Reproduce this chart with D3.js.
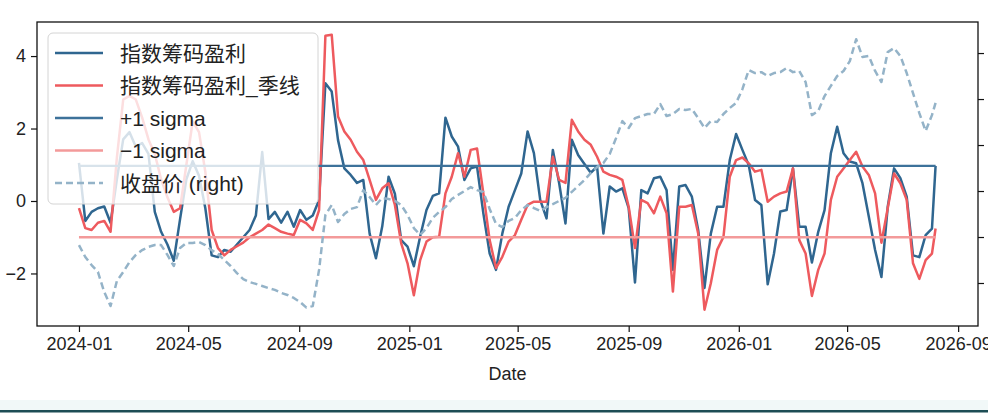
<!DOCTYPE html>
<html><head><meta charset="utf-8">
<script src="https://cdn.jsdelivr.net/npm/d3@7"></script>
<style>
body{margin:0;background:#fff;}
svg{display:block;}
text{font-family:"Liberation Sans",Arial,"Noto Sans CJK SC",sans-serif;fill:#222;}
</style>
</head><body>
<svg id="chart" width="988" height="420"></svg>
<script>
// ---------------- data ----------------
const dates = [
"2024-01-01","2024-01-08","2024-01-15","2024-01-22","2024-01-29","2024-02-05","2024-02-12","2024-02-19","2024-02-26",
"2024-03-04","2024-03-11","2024-03-18","2024-03-25","2024-04-01","2024-04-08","2024-04-15","2024-04-22","2024-04-29",
"2024-05-06","2024-05-13","2024-05-20","2024-05-27","2024-06-03","2024-06-10","2024-06-17","2024-06-24",
"2024-07-01","2024-07-08","2024-07-15","2024-07-22","2024-07-29","2024-08-05","2024-08-12","2024-08-19","2024-08-26",
"2024-09-02","2024-09-09","2024-09-16","2024-09-23","2024-09-30","2024-10-07","2024-10-14","2024-10-21","2024-10-28",
"2024-11-04","2024-11-11","2024-11-18","2024-11-25","2024-12-02","2024-12-09","2024-12-16","2024-12-23","2024-12-30",
"2025-01-06","2025-01-13","2025-01-20","2025-01-27","2025-02-03","2025-02-10","2025-02-17","2025-02-24",
"2025-03-03","2025-03-10","2025-03-17","2025-03-24","2025-03-31","2025-04-07","2025-04-14","2025-04-21","2025-04-28",
"2025-05-05","2025-05-12","2025-05-19","2025-05-26","2025-06-02","2025-06-09","2025-06-16","2025-06-23","2025-06-30",
"2025-07-07","2025-07-14","2025-07-21","2025-07-28","2025-08-04","2025-08-11","2025-08-18","2025-08-25",
"2025-09-01","2025-09-08","2025-09-15","2025-09-22","2025-09-29","2025-10-06","2025-10-13","2025-10-20","2025-10-27",
"2025-11-03","2025-11-10","2025-11-17","2025-11-24","2025-12-01","2025-12-08","2025-12-15","2025-12-22","2025-12-29",
"2026-01-05","2026-01-12","2026-01-19","2026-01-26","2026-02-02","2026-02-09","2026-02-16","2026-02-23",
"2026-03-02","2026-03-09","2026-03-16","2026-03-23","2026-03-30","2026-04-06","2026-04-13","2026-04-20","2026-04-27",
"2026-05-04","2026-05-11","2026-05-18","2026-05-25","2026-06-01","2026-06-08","2026-06-15","2026-06-22","2026-06-29",
"2026-07-06","2026-07-13","2026-07-20","2026-07-27","2026-08-03","2026-08-07"
];

// 指数筹码盈利
const chipProfit = [
1.05,-0.55,-0.3,-0.2,-0.15,-0.6,0.6,1.7,1.9,1.5,1.6,1.3,-0.3,-0.85,-1.2,-1.65,-0.5,0.6,1.1,0.7,
-0.2,-1.5,-1.55,-1.35,-1.4,-1.2,-1.0,-0.8,-0.4,1.35,-0.5,-0.3,-0.6,-0.3,-0.71,-0.25,-0.52,-0.4,0.03,3.25,
3.02,1.68,0.9,0.72,0.5,0.58,-0.9,-1.58,-0.7,0.67,0.2,-1.08,-1.26,-1.8,-0.98,-0.25,0.14,0.21,2.3,1.78,
1.5,0.58,0.9,0.95,-0.34,-1.45,-1.9,-0.9,-0.16,0.3,0.76,1.92,1.32,0.03,-0.48,1.41,0.49,-0.62,1.69,1.27,
1.02,0.78,0.95,-0.9,0.4,0.26,0.35,-0.2,-2.25,0.3,0.21,0.63,0.67,0.3,-1.9,0.4,0.44,0.12,-0.8,-2.4,
-0.9,-0.16,-0.16,1.13,1.85,1.41,0.99,0.03,-0.11,-2.3,-1.45,-0.29,-0.25,0.9,-0.71,-0.71,-1.7,-0.85,-0.25,1.32,
2.05,1.32,1.09,1.04,0.49,-0.43,-1.35,-2.1,-0.16,0.9,0.63,0.12,-1.5,-1.55,-0.94,-0.76,0.97
];

// 指数筹码盈利_季线
const chipProfitQ = [
-0.2,-0.75,-0.8,-0.6,-0.55,-0.85,1.2,2.8,2.9,2.8,2.3,1.7,1.3,0.6,0.1,-0.3,-0.2,1.0,2.2,1.9,
0.8,-0.8,-1.3,-1.5,-1.35,-1.25,-1.15,-1.0,-0.9,-0.8,-0.65,-0.75,-0.85,-0.9,-0.94,-0.52,-0.62,-0.8,-0.25,4.56,
4.59,2.33,1.92,1.69,1.36,1.13,0.58,0.03,0.35,0.49,-0.11,-1.17,-1.72,-2.6,-1.63,-1.12,-1.0,-0.99,0.21,0.67,
1.32,0.67,1.41,1.45,0.21,-1.08,-1.85,-1.54,-1.12,-0.94,-0.52,-0.11,-0.02,-0.02,-0.02,1.22,0.58,0.5,2.24,1.92,
1.69,1.55,1.22,0.81,0.72,0.67,0.58,-0.16,-1.3,0.03,-0.06,-0.34,0.12,-0.34,-2.5,-0.16,-0.16,-0.11,-0.9,-3.0,
-2.27,-1.35,-0.99,0.67,1.13,1.2,1.04,0.81,0.86,-0.02,0.12,0.21,0.26,0.9,-1.08,-1.45,-2.62,-1.9,-1.45,0.03,
0.67,0.9,1.13,1.36,0.95,0.72,0.21,-1.15,-0.2,0.76,0.49,0.03,-1.72,-2.15,-1.63,-1.45,-0.76
];

// 收盘价 (right axis)
const closePrice = [
3165,3113,3078,3048,2961,2900,3009,3048,3091,3122,3143,3157,3165,3165,3122,3074,3152,3174,3174,3178,
3165,3143,3126,3100,3074,3043,3017,3004,2996,2987,2978,2970,2957,2948,2935,2917,2893,2900,3057,3296,
3339,3265,3300,3322,3330,3404,3374,3339,3370,3365,3357,3339,3296,3239,3209,3239,3283,3309,3330,3365,
3383,3400,3417,3404,3396,3322,3257,3243,3270,3283,3317,3339,3326,3313,3330,3343,3357,3370,3396,3422,
3448,3478,3504,3522,3561,3630,3704,3674,3717,3726,3735,3735,3778,3726,3735,3757,3752,3757,3717,3674,
3704,3700,3735,3761,3783,3843,3926,3913,3917,3900,3913,3917,3935,3917,3922,3874,3730,3748,3813,3857,
3900,3922,3965,4060,3983,3987,3922,3874,4004,4022,3987,3913,3826,3739,3661,3730,3783
];

const sigmaUp = 0.97;
const sigmaDown = -1.0;

const xTickLabels = ["2024-01","2024-05","2024-09","2025-01","2025-05","2025-09","2026-01","2026-05","2026-09"];
const yTickValues = [-2, 0, 2, 4];
const rightTickValues = [3000, 3200, 3400, 3600, 3800, 4000];
const legendLabels = ["指数筹码盈利", "指数筹码盈利_季线", "+1 sigma", "\u22121 sigma", "收盘价 (right)"];
const xLabel = "Date";

// ---------------- drawing ----------------
const svg = d3.select("#chart");
const parse = d3.timeParse("%Y-%m-%d");
const parseM = d3.timeParse("%Y-%m");
const dts = dates.map(parse);

const L = 37, R = 978, T = 22, B = 326;

const x = d3.scaleTime()
  .domain([new Date(2023, 10, 15, 12), new Date(2026, 8, 23)])
  .range([L, R]);
const y = d3.scaleLinear().domain([-3.45, 4.94]).range([B, T]);
const yR = d3.scaleLinear().domain([2813, 4135]).range([B, T]);

const C_BLUE = "#2f6690", C_RED = "#ee5a5e", C_SIGU = "#3d729a", C_SIGD = "#f39a9a", C_PRICE = "#94b3c8";

// bottom decoration band
svg.append("rect").attr("x", 0).attr("y", 400).attr("width", 988).attr("height", 10).attr("fill", "#f1f8f8");
svg.append("rect").attr("x", 0).attr("y", 410).attr("width", 988).attr("height", 2.5).attr("fill", "#1d4d55");

const g = svg.append("g");
g.append("defs").append("clipPath").attr("id", "clip")
  .append("rect").attr("x", L).attr("y", T).attr("width", R - L).attr("height", B - T);
const plot = g.append("g").attr("clip-path", "url(#clip)");

const line = d3.line().x(d => x(d[0])).y(d => y(d[1])).curve(d3.curveLinear);
const lineR = d3.line().x(d => x(d[0])).y(d => yR(d[1])).curve(d3.curveLinear);

const blueData = dts.map((d, i) => [d, chipProfit[i]]);
const redData = dts.map((d, i) => [d, chipProfitQ[i]]);
const priceData = dts.map((d, i) => [d, closePrice[i]]);
const firstD = dts[0], lastD = dts[dts.length - 1];

plot.append("path").datum(blueData).attr("d", line)
  .attr("fill", "none").attr("stroke", C_BLUE).attr("stroke-width", 2.5).attr("stroke-linejoin", "round");
plot.append("path").datum(redData).attr("d", line)
  .attr("fill", "none").attr("stroke", C_RED).attr("stroke-width", 2.5).attr("stroke-linejoin", "round");
plot.append("path").datum([[firstD, sigmaUp], [lastD, sigmaUp]]).attr("d", line)
  .attr("fill", "none").attr("stroke", C_SIGU).attr("stroke-width", 2.2);
plot.append("path").datum([[firstD, sigmaDown], [lastD, sigmaDown]]).attr("d", line)
  .attr("fill", "none").attr("stroke", C_SIGD).attr("stroke-width", 2.4);
plot.append("path").datum(priceData).attr("d", lineR)
  .attr("fill", "none").attr("stroke", C_PRICE).attr("stroke-width", 2.5)
  .attr("stroke-dasharray", "7,4").attr("stroke-linejoin", "round");

// frame
g.append("rect").attr("x", L).attr("y", T).attr("width", R - L).attr("height", B - T)
  .attr("fill", "none").attr("stroke", "#111").attr("stroke-width", 1.3);

// axes
const fmtNum = d => (d < 0 ? "\u2212" + Math.abs(d) : String(d));
const ax = g.append("g").attr("transform", `translate(0,${B})`)
  .call(d3.axisBottom(x).tickValues(xTickLabels.map(parseM)).tickFormat(d3.timeFormat("%Y-%m"))
    .tickSize(6).tickSizeOuter(0).tickPadding(5));
const ay = g.append("g").attr("transform", `translate(${L},0)`)
  .call(d3.axisLeft(y).tickValues(yTickValues).tickFormat(fmtNum).tickSize(6).tickSizeOuter(0).tickPadding(5));
const ar = g.append("g").attr("transform", `translate(${R},0)`)
  .call(d3.axisRight(yR).tickValues(rightTickValues).tickFormat("").tickSize(6).tickSizeOuter(0));
[ax, ay, ar].forEach(a => {
  a.select(".domain").remove();
  a.selectAll(".tick line").attr("stroke", "#111").attr("stroke-width", 1.2);
  a.selectAll(".tick text").attr("font-size", 18).attr("fill", "#222")
    .style("font-family", '"Liberation Sans",Arial,"Noto Sans CJK SC",sans-serif');
});

g.append("text").attr("x", (L + R) / 2).attr("y", 380).attr("text-anchor", "middle")
  .attr("font-size", 18).text(xLabel);

// legend
const leg = g.append("g");
leg.append("rect").attr("x", 48).attr("y", 33).attr("width", 270).attr("height", 171).attr("rx", 5)
  .attr("fill", "#ffffff").attr("fill-opacity", 0.8).attr("stroke", "#d4d4d4").attr("stroke-width", 1);
const legStyles = [
  {c: C_BLUE, w: 2.5, dash: null},
  {c: C_RED, w: 2.5, dash: null},
  {c: C_SIGU, w: 2.5, dash: null},
  {c: C_SIGD, w: 2.5, dash: null},
  {c: C_PRICE, w: 2.5, dash: "7,4"}
];
legendLabels.forEach((lab, i) => {
  const yy = 53 + i * 32.5;
  const s = legStyles[i];
  const l = leg.append("line").attr("x1", 55).attr("x2", 103).attr("y1", yy).attr("y2", yy)
    .attr("stroke", s.c).attr("stroke-width", s.w);
  if (s.dash) l.attr("stroke-dasharray", s.dash);
  leg.append("text").attr("x", 120).attr("y", yy).attr("dy", "0.36em")
    .attr("font-size", 21).text(lab);
});
</script>
</body></html>
